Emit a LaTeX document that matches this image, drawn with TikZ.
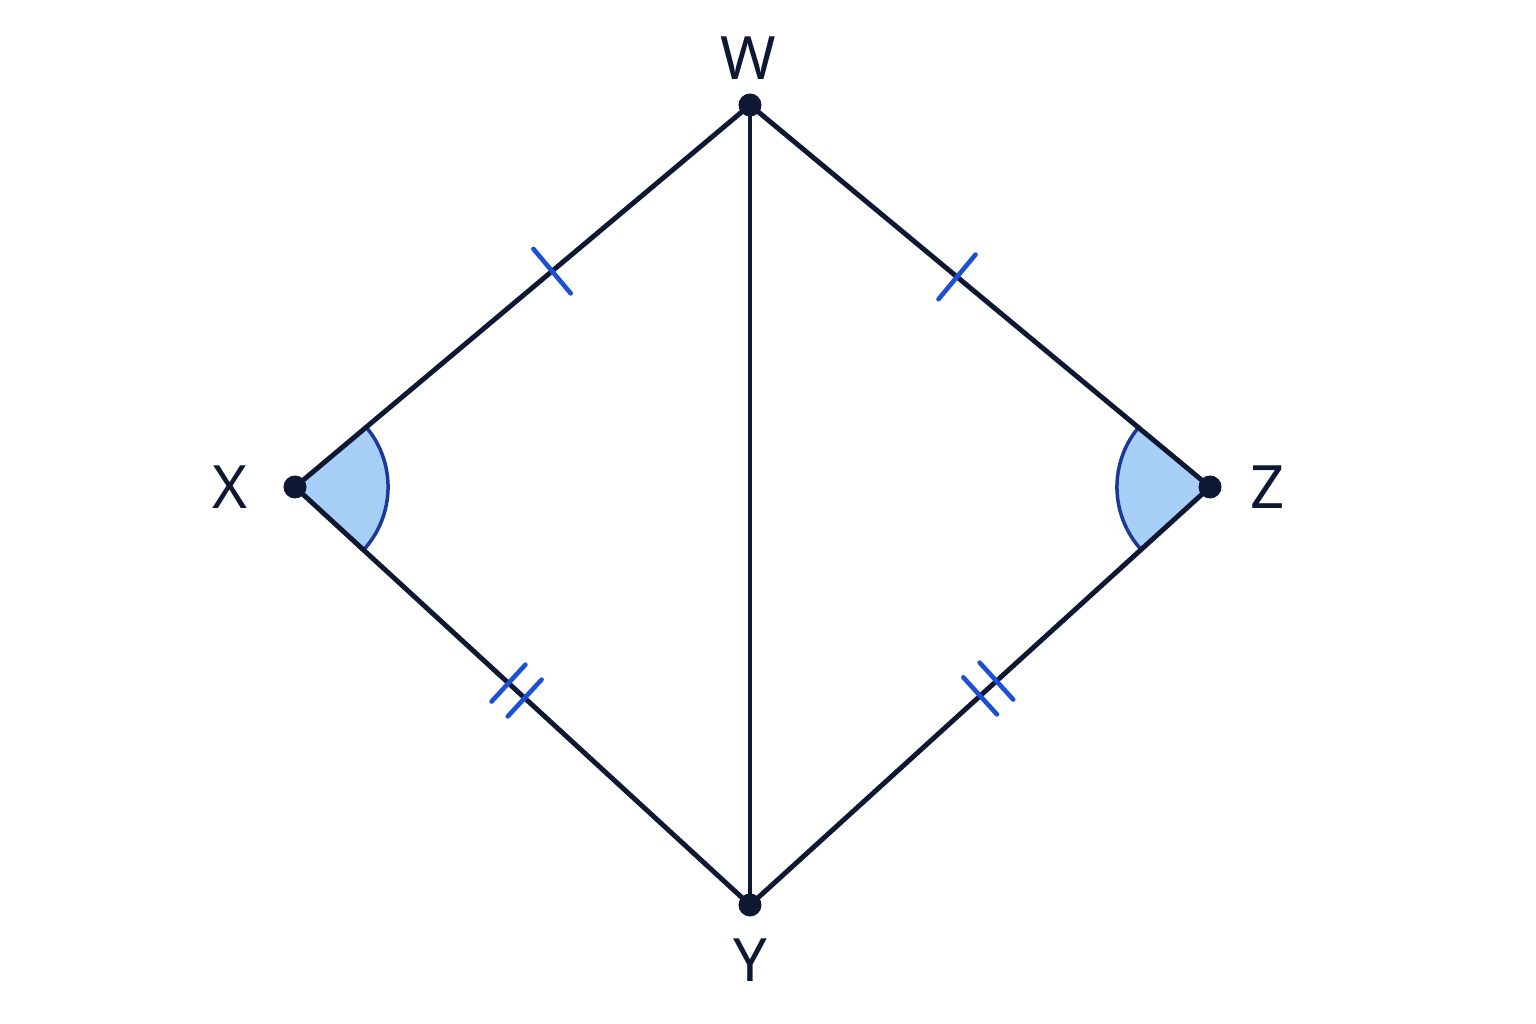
\documentclass[tikz,border=0pt]{standalone}
\usepackage{fontspec}
\setmainfont{Noto Sans}
\usetikzlibrary{calc}
\definecolor{navy}{HTML}{0E1833}
\definecolor{tickblue}{HTML}{1B4FD8}
\definecolor{anglefill}{HTML}{A8CFF8}
\definecolor{anglearc}{HTML}{1A3A9A}

\begin{document}
\begin{tikzpicture}[x=0.01cm, y=0.01cm,
  vertex/.style={circle, fill=navy, inner sep=0pt, minimum size=0.23cm},
  side/.style={draw=navy, line width=1.4pt},
  tickmark/.style={draw=tickblue, line width=1.3pt, line cap=round},
  angmark/.style={fill=anglefill, draw=anglearc, line width=1pt},
  lbl/.style={font=\fontsize{17}{20}\selectfont, text=navy}
  ]
  \useasboundingbox (0,0) rectangle (1536,1024);
  \coordinate (W) at (750,919);
  \coordinate (X) at (295,537);
  \coordinate (Z) at (1210,537);
  \coordinate (Y) at (750,119);
  % equal angles
  \fill[anglefill] (X) -- ++(40:0.93cm) arc[start angle=40, end angle=-42.6, radius=0.93cm] -- cycle;
  \draw[angmark, fill=none] (X) ++(40:0.93cm) arc[start angle=40, end angle=-42.6, radius=0.93cm];
  \fill[anglefill] (Z) -- ++(140.3:0.93cm) arc[start angle=140.3, end angle=222.3, radius=0.93cm] -- cycle;
  \draw[angmark, fill=none] (Z) ++(140.3:0.93cm) arc[start angle=140.3, end angle=222.3, radius=0.93cm];
  % sides
  \draw[side] (X) -- (W) -- (Z) -- (Y) -- cycle;
  \draw[side] (W) -- (Y);
  % single ticks
  \coordinate (t1) at ($(X)!0.565!(W)$);
  \coordinate (t2) at ($(Z)!0.55!(W)$);
  \draw[tickmark] ($(t1)!0.29cm!90:(W)$) -- ($(t1)!0.29cm!-90:(W)$);
  \draw[tickmark] ($(t2)!0.29cm!90:(W)$) -- ($(t2)!0.29cm!-90:(W)$);
  % double ticks
  \foreach \a/\b/\f in {X/Y/0.487, Z/Y/0.482}{
    \coordinate (d) at ($(\a)!\f!(\b)$);
    \foreach \s in {-0.11cm, 0.11cm}{
      \coordinate (e) at ($(d)!\s!(\b)$);
      \draw[tickmark] ($(e)!0.25cm!90:(\b)$) -- ($(e)!0.25cm!-90:(\b)$);
    }
  }
  % vertices
  \node[vertex] (w) at (W) {};
  \node[vertex] (x) at (X) {};
  \node[vertex] (z) at (Z) {};
  \node[vertex] (y) at (Y) {};
  \node[lbl] (lw) at (748,966) {W};
  \node[lbl] (lx) at (230,537) {X};
  \node[lbl] (lz) at (1268,537) {Z};
  \node[lbl] (ly) at (750,64) {Y};
\end{tikzpicture}
\end{document}
